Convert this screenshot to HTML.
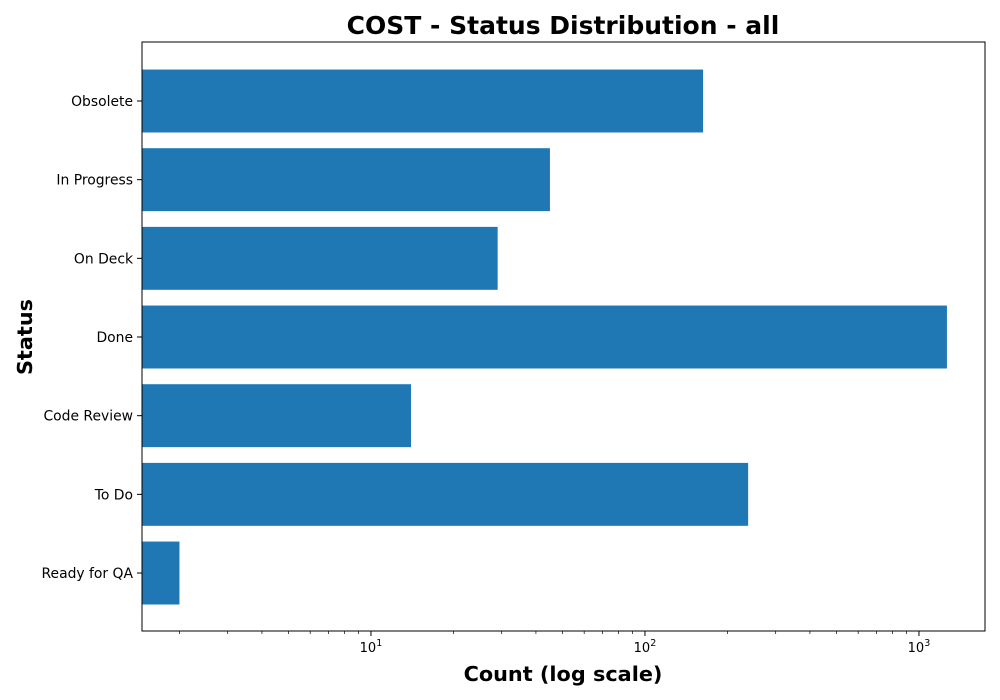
<!DOCTYPE html>
<html><head><meta charset="utf-8"><style>body{margin:0;background:#fff}svg{display:block}text{font-family:"DejaVu Sans","Liberation Sans",sans-serif}</style></head>
<body>
<svg id="chart" width="1000" height="700">
<rect x="0" y="0" width="1000" height="700" fill="#fff"/>
<text x="563" y="34" text-anchor="middle" font-size="25" font-weight="bold">COST - Status Distribution - all</text>
<text x="563" y="681" text-anchor="middle" font-size="20.8" font-weight="bold">Count (log scale)</text>
<text transform="translate(32,337) rotate(-90)" text-anchor="middle" font-size="20.8" font-weight="bold">Status</text>
<g id="bars"></g><g id="ticks"></g>
<rect x="142" y="42" width="843" height="589" fill="none" stroke="#000" stroke-width="1"/>
</svg>
<script>
const categories = ["Ready for QA","To Do","Code Review","Done","On Deck","In Progress","Obsolete"];
const counts = [2,238,14,1265,29,45,163];
const majorTicks = [10,100,1000];
const majorLabels = ["1","2","3"];
const L=142,R=985,T=42,B=631;
const xMinLog=Math.log10(1.46), xMaxLog=Math.log10(1742);
function x(v){return L+(Math.log10(v)-xMinLog)/(xMaxLog-xMinLog)*(R-L);}
const yMin=-0.737,yMax=6.75;
function y(i){return B-(i-yMin)/(yMax-yMin)*(B-T);}
const ns="http://www.w3.org/2000/svg";
const bars=document.getElementById('bars'),ticks=document.getElementById('ticks');
const bw=0.8*(B-T)/(yMax-yMin);
categories.forEach((c,i)=>{
 const r=document.createElementNS(ns,'rect');
 r.setAttribute('x',L);r.setAttribute('y',y(i)-bw/2);
 r.setAttribute('width',Math.max(0,x(counts[i])-L));r.setAttribute('height',bw);
 r.setAttribute('fill','#1f77b4');
 
 
 bars.appendChild(r);
 const t=document.createElementNS(ns,'line');
 t.setAttribute('x1',L-5);t.setAttribute('x2',L);t.setAttribute('y1',y(i));t.setAttribute('y2',y(i));t.setAttribute('stroke','#000');
 
 
 ticks.appendChild(t);
 const tx=document.createElementNS(ns,'text');
 tx.setAttribute('x',L-9);tx.setAttribute('y',y(i)+5);tx.setAttribute('text-anchor','end');tx.setAttribute('font-size','13.9');
 tx.textContent=c;
 
 
 ticks.appendChild(tx);
});
for(let d=1;d<=1000;d*=10){for(let m=1;m<10;m++){const v=d*m;if(v<1.46||v>1742)continue;
 const xx=x(v),major=(m===1);
 const t=document.createElementNS(ns,'line');
 t.setAttribute('x1',xx);t.setAttribute('x2',xx);t.setAttribute('y1',B);t.setAttribute('y2',B+(major?5:3));t.setAttribute('stroke','#000');t.setAttribute('stroke-width',major?1:0.7);
 
 
 ticks.appendChild(t);}}
majorTicks.forEach((v,k)=>{
 const tx=document.createElementNS(ns,'text');
 tx.setAttribute('x',x(v));tx.setAttribute('y',B+21);tx.setAttribute('text-anchor','middle');tx.setAttribute('font-size','13');
 tx.innerHTML='10<tspan dy="-6" font-size="9.5">'+majorLabels[k]+'</tspan>';
 
 
 ticks.appendChild(tx);
});
</script>
</body></html>
